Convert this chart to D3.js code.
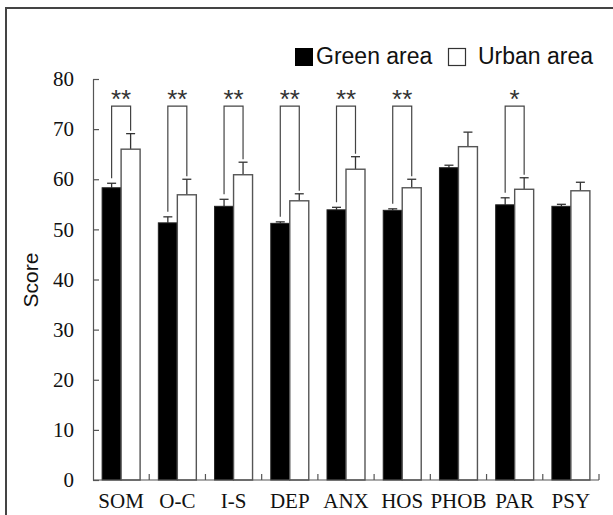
<!DOCTYPE html>
<html>
<head>
<meta charset="utf-8">
<script src="https://cdn.jsdelivr.net/npm/d3@7/dist/d3.min.js"></script>
<style>
  html, body { margin: 0; padding: 0; background: #fff; }
  svg { display: block; }
</style>
</head>
<body>
<svg id="chart" width="613" height="515"></svg>
<script>
// ---- data ----
const categories = ["SOM", "O-C", "I-S", "DEP", "ANX", "HOS", "PHOB", "PAR", "PSY"];
const seriesNames = ["Green area", "Urban area"];
const greenMean = [58.3, 51.3, 54.6, 51.2, 53.9, 53.8, 62.3, 54.9, 54.6];
const greenErr  = [0.9, 1.2, 1.4, 0.3, 0.5, 0.3, 0.5, 1.4, 0.4];
const urbanMean = [66.0, 56.9, 60.9, 55.7, 62.0, 58.3, 66.5, 58.0, 57.7];
const urbanErr  = [3.1, 3.1, 2.5, 1.4, 2.5, 1.7, 2.9, 2.3, 1.7];
const significance = ["**", "**", "**", "**", "**", "**", "", "*", ""];
const yTicks = [0, 10, 20, 30, 40, 50, 60, 70, 80];
const bracketLevel = 74.6;

const svg = d3.select("#chart");
const axisColor = "#555";

// outer frame
svg.append("path")
  .attr("d", "M6,520 L6,8 L620,8")
  .attr("fill", "none").attr("stroke", "#444").attr("stroke-width", 2);

const x = d3.scaleBand().domain(categories).range([93, 599]).paddingInner(0).paddingOuter(0);
const xs = d3.scaleBand().domain(seriesNames).range([0, x.bandwidth()]).paddingInner(0).paddingOuter(0.48);
const y = d3.scaleLinear().domain([0, 80]).range([480, 79]);

const rows = categories.map((c, i) => ({
  c, g: greenMean[i], ge: greenErr[i], u: urbanMean[i], ue: urbanErr[i], sig: significance[i]
}));

// bars
const grp = svg.append("g");
rows.forEach(r => {
  const gx = x(r.c) + xs("Green area");
  const ux = x(r.c) + xs("Urban area");
  const w = xs.bandwidth();
  [[gx, r.g, r.ge], [ux, r.u, r.ue]].forEach(([bx, m, e]) => {
    const cx = bx + w / 2;
    grp.append("line").attr("x1", cx).attr("x2", cx).attr("y1", y(m)).attr("y2", y(m + e))
      .attr("stroke", "#333").attr("stroke-width", 1.3);
    grp.append("line").attr("x1", cx - 4.5).attr("x2", cx + 4.5).attr("y1", y(m + e)).attr("y2", y(m + e))
      .attr("stroke", "#333").attr("stroke-width", 1.3);
  });
  grp.append("rect").attr("x", gx).attr("y", y(r.g)).attr("width", w).attr("height", y(0) - y(r.g))
    .attr("fill", "#000").attr("stroke", "#222").attr("stroke-width", 1);
  grp.append("rect").attr("x", ux).attr("y", y(r.u)).attr("width", w).attr("height", y(0) - y(r.u))
    .attr("fill", "#fff").attr("stroke", "#555").attr("stroke-width", 1.4);

  if (r.sig) {
    const lx = gx + w / 2, rx = ux + w / 2;
    const top = y(bracketLevel);
    grp.append("path")
      .attr("d", `M${lx},${y(r.g + r.ge) - 5} L${lx},${top} L${rx},${top} L${rx},${y(r.u + r.ue) - 3}`)
      .attr("fill", "none").attr("stroke", "#444").attr("stroke-width", 1.2);
    grp.append("text").attr("x", x(r.c) + x.bandwidth() / 2).attr("y", top + 2)
      .attr("text-anchor", "middle")
      .attr("font-family", "Liberation Sans, Arial, sans-serif").attr("font-size", 26)
      .attr("fill", "#333").text(r.sig);
  }
});

// y axis
const yAxis = d3.axisLeft(y).tickValues(yTicks).tickSizeInner(-6).tickSizeOuter(0).tickPadding(19);
const ya = svg.append("g").attr("transform", "translate(93,0)").call(yAxis);
ya.select(".domain").attr("stroke", axisColor).attr("stroke-width", 1.2);
ya.selectAll(".tick line").attr("stroke", axisColor).attr("stroke-width", 1.2);
ya.selectAll(".tick text").attr("font-family", "Liberation Serif, Times New Roman, serif")
  .attr("font-size", 21).attr("fill", "#111");

// x axis
const xa = svg.append("g").attr("transform", "translate(0,480)");
xa.append("line").attr("x1", x.range()[0]).attr("x2", x.range()[1]).attr("y1", 0).attr("y2", 0)
  .attr("stroke", axisColor).attr("stroke-width", 1.2);
categories.forEach(c => {
  xa.append("line").attr("x1", x(c) + x.bandwidth()).attr("x2", x(c) + x.bandwidth())
    .attr("y1", 0).attr("y2", -6).attr("stroke", axisColor).attr("stroke-width", 1.2);
  xa.append("text").attr("x", x(c) + x.bandwidth() / 2).attr("y", 28)
    .attr("text-anchor", "middle")
    .attr("font-family", "Liberation Serif, Times New Roman, serif").attr("font-size", 21)
    .attr("fill", "#111").text(c);
});

// y title
svg.append("text").attr("transform", "translate(38,280) rotate(-90)")
  .attr("text-anchor", "middle")
  .attr("font-family", "Liberation Sans, Arial, sans-serif").attr("font-size", 21)
  .attr("fill", "#111").text("Score");

// legend
const lg = svg.append("g");
lg.append("rect").attr("x", 295).attr("y", 48).attr("width", 18).attr("height", 18).attr("fill", "#000");
lg.append("text").attr("x", 316).attr("y", 64)
  .attr("font-family", "Liberation Sans, Arial, sans-serif").attr("font-size", 23)
  .attr("fill", "#111").text(seriesNames[0]);
lg.append("rect").attr("x", 448.5).attr("y", 48.5).attr("width", 17).attr("height", 17)
  .attr("fill", "#fff").attr("stroke", "#333").attr("stroke-width", 1.2);
lg.append("text").attr("x", 478).attr("y", 64)
  .attr("font-family", "Liberation Sans, Arial, sans-serif").attr("font-size", 23)
  .attr("fill", "#111").text(seriesNames[1]);
</script>
</body>
</html>
